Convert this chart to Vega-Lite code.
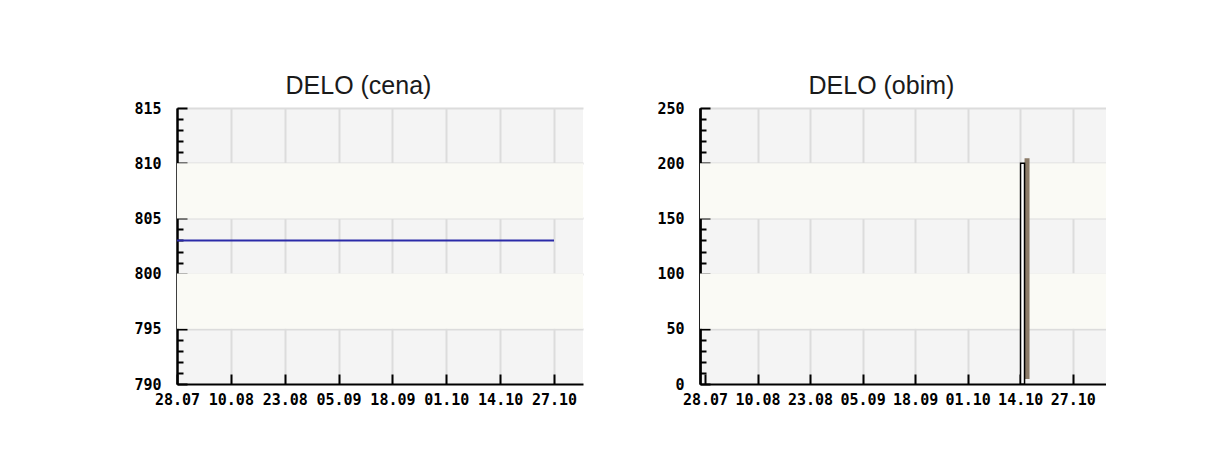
{
  "$schema": "https://vega.github.io/schema/vega-lite/v6.json",
  "background": "white",
  "padding": {"left": 133, "top": 74, "right": 0, "bottom": 0},
  "autosize": {"type": "pad"},
  "spacing": 73,
  "config": {
    "view": {"stroke": null, "fill": "#f4f4f4"},
    "title": {"font": "Liberation Sans", "fontSize": 25, "fontWeight": "normal", "color": "#1a1a1a", "offset": 2, "frame": "bounds", "anchor": "middle"},
    "axis": {
      "labelFont": "DejaVu Sans Mono",
      "labelFontSize": 15,
      "labelFontWeight": "bold",
      "labelColor": "#000000",
      "tickColor": "#000000",
      "domainColor": "#000000",
      "domainWidth": 2,
      "gridColor": "#dcdcdc",
      "gridWidth": 2,
      "gridOpacity": 1,
      "labelOverlap": false,
      "labelFlush": false,
      "labelBound": false,
      "title": null,
      "zindex": 1
    }
  },
  "datasets": {
    "cena": [
      {"datum": "2009-07-28", "cena": 803},
      {"datum": "2009-10-27", "cena": 803}
    ],
    "obim": [
      {"datum": "2009-10-13", "obim": 200}
    ],
    "pasovi_cena": [
      {"od": 795, "do": 800},
      {"od": 805, "do": 810}
    ],
    "pasovi_obim": [
      {"od": 50, "do": 100},
      {"od": 150, "do": 200}
    ]
  },
  "hconcat": [
    {
      "width": 406,
      "height": 276,
      "title": "DELO (cena)",
      "layer": [
        {
          "data": {"name": "pasovi_cena"},
          "mark": {"type": "rect", "color": "#fafaf5"},
          "encoding": {
            "y": {
              "field": "od", "type": "quantitative",
              "scale": {"domain": [790, 815], "nice": false, "zero": false},
              "axis": {
                "orient": "left",
                "values": [790, 795, 800, 805, 810, 815],
                "tickSize": -10, "tickWidth": 2,
                "domain": true,
                "grid": true,
                "gridOpacity": {"condition": {"test": "datum.value == 790", "value": 0}, "value": 1},
                "labelPadding": 26
              }
            },
            "y2": {"field": "do"}
          }
        },
        {
          "data": {"name": "cena"},
          "mark": {"type": "line", "color": "#2a2aa8", "strokeWidth": 2},
          "encoding": {
            "x": {
              "field": "datum", "type": "temporal",
              "scale": {"type": "utc", "domain": [{"year": 2009, "month": 7, "date": 28, "utc": true}, {"year": 2009, "month": 11, "date": 3, "utc": true}]},
              "axis": {
                "values": [
                  {"year": 2009, "month": 7, "date": 28, "utc": true},
                  {"year": 2009, "month": 8, "date": 10, "utc": true},
                  {"year": 2009, "month": 8, "date": 23, "utc": true},
                  {"year": 2009, "month": 9, "date": 5, "utc": true},
                  {"year": 2009, "month": 9, "date": 18, "utc": true},
                  {"year": 2009, "month": 10, "date": 1, "utc": true},
                  {"year": 2009, "month": 10, "date": 14, "utc": true},
                  {"year": 2009, "month": 10, "date": 27, "utc": true}
                ],
                "labelExpr": "utcFormat(datum.value, '%d.%m')",
                "tickSize": -10, "tickWidth": 2,
                "domain": true,
                "grid": true,
                "gridOpacity": {"condition": {"test": "utcFormat(datum.value, '%d.%m') == '28.07'", "value": 0}, "value": 1},
                "labelPadding": 18
              }
            },
            "y": {
              "field": "cena", "type": "quantitative",
              "scale": {"domain": [790, 815], "nice": false, "zero": false},
              "axis": {
                "orient": "left",
                "values": [791, 792, 793, 794, 796, 797, 798, 799, 801, 802, 803, 804, 806, 807, 808, 809, 811, 812, 813, 814],
                "tickSize": -6, "tickWidth": 2,
                "domain": true, "labels": false, "grid": false
              }
            }
          }
        }
      ],
      "resolve": {"axis": {"y": "independent"}}
    },
    {
      "width": 406,
      "height": 276,
      "title": "DELO (obim)",
      "layer": [
        {
          "data": {"name": "pasovi_obim"},
          "mark": {"type": "rect", "color": "#fafaf5"},
          "encoding": {
            "y": {
              "field": "od", "type": "quantitative",
              "scale": {"domain": [0, 250], "nice": false},
              "axis": {
                "orient": "left",
                "values": [0, 50, 100, 150, 200, 250],
                "tickSize": -10, "tickWidth": 2,
                "domain": true,
                "grid": true,
                "gridOpacity": {"condition": {"test": "datum.value == 0", "value": 0}, "value": 1},
                "labelPadding": 26
              }
            },
            "y2": {"field": "do"}
          }
        },
        {
          "data": {"name": "obim"},
          "mark": {"type": "bar", "color": "#8b7b68", "width": 5, "xOffset": 10.9, "yOffset": -5},
          "encoding": {
            "x": {
              "field": "datum", "type": "temporal",
              "scale": {"type": "utc", "domain": [{"year": 2009, "month": 7, "date": 28, "utc": true}, {"year": 2009, "month": 11, "date": 3, "utc": true}]},
              "axis": {
                "values": [
                  {"year": 2009, "month": 7, "date": 28, "utc": true},
                  {"year": 2009, "month": 8, "date": 10, "utc": true},
                  {"year": 2009, "month": 8, "date": 23, "utc": true},
                  {"year": 2009, "month": 9, "date": 5, "utc": true},
                  {"year": 2009, "month": 9, "date": 18, "utc": true},
                  {"year": 2009, "month": 10, "date": 1, "utc": true},
                  {"year": 2009, "month": 10, "date": 14, "utc": true},
                  {"year": 2009, "month": 10, "date": 27, "utc": true}
                ],
                "labelExpr": "utcFormat(datum.value, '%d.%m')",
                "tickSize": -10, "tickWidth": 2,
                "domain": true,
                "grid": true,
                "gridOpacity": {"condition": {"test": "utcFormat(datum.value, '%d.%m') == '28.07'", "value": 0}, "value": 1},
                "labelPadding": 18
              }
            },
            "y": {
              "field": "obim", "type": "quantitative",
              "scale": {"domain": [0, 250], "nice": false},
              "axis": {
                "orient": "left",
                "values": [10, 20, 30, 40, 60, 70, 80, 90, 110, 120, 130, 140, 160, 170, 180, 190, 210, 220, 230, 240],
                "tickSize": -6, "tickWidth": 2,
                "domain": true, "labels": false, "grid": false
              }
            }
          }
        },
        {
          "data": {"name": "obim"},
          "mark": {"type": "bar", "fill": "#ffffff", "stroke": "#000000", "strokeWidth": 1.5, "width": 4, "xOffset": 6.4},
          "encoding": {
            "x": {"field": "datum", "type": "temporal"},
            "y": {
              "field": "obim", "type": "quantitative",
              "axis": {"orient": "left", "labels": false, "ticks": false, "domain": true, "grid": false}
            }
          }
        }
      ],
      "resolve": {"axis": {"y": "independent"}}
    }
  ]
}
